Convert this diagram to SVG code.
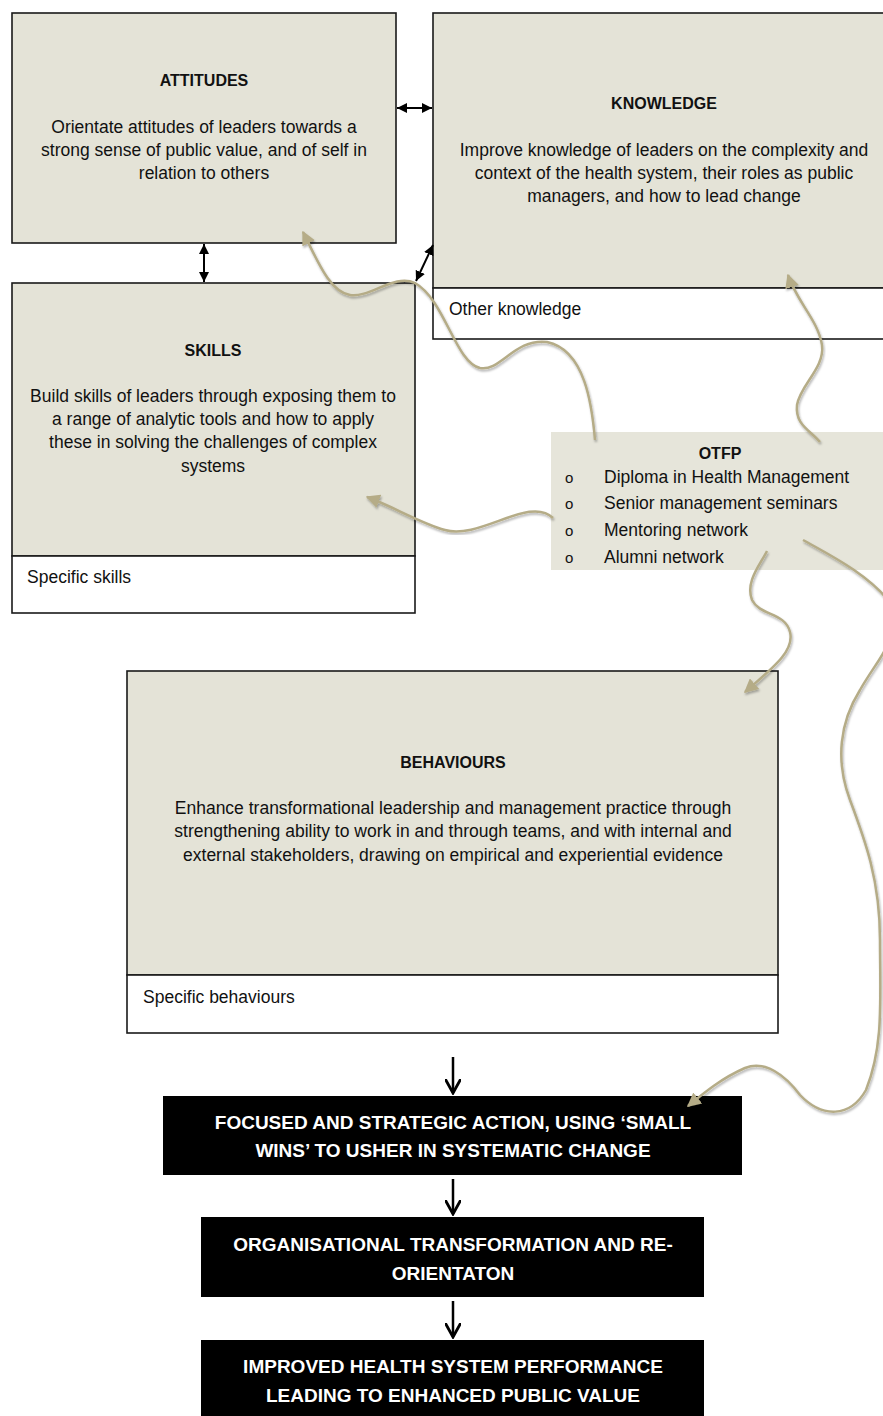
<svg xmlns="http://www.w3.org/2000/svg" width="883" height="1416" viewBox="0 0 883 1416">
<defs>
<style>
.box{fill:#e4e3d7;stroke:#1a1a1a;stroke-width:1.6}
.wbox{fill:#ffffff;stroke:#1a1a1a;stroke-width:1.6}
.otfp{fill:#e6e5da}
.blk{fill:#000000}
.t{font-family:"Liberation Sans",Arial,sans-serif;font-size:17.5px;fill:#111;text-anchor:middle}
.tl{font-family:"Liberation Sans",Arial,sans-serif;font-size:17.5px;fill:#111}
.h{font-family:"Liberation Sans",Arial,sans-serif;font-size:16px;font-weight:bold;fill:#111;text-anchor:middle}
.w{font-family:"Liberation Sans",Arial,sans-serif;font-size:19px;font-weight:bold;fill:#fff;text-anchor:middle}
.blt{font-family:"Liberation Sans",Arial,sans-serif;font-size:15px;fill:#111}
.dbl{stroke:#000;stroke-width:2;fill:none;marker-start:url(#bk);marker-end:url(#bk)}
.down{stroke:#000;stroke-width:2.5;fill:none;marker-end:url(#dn)}
.curve{stroke:#b5ac87;stroke-width:2.5;fill:none;marker-end:url(#kh);filter:url(#sh)}
</style>
<marker id="bk" viewBox="0 0 10 10" refX="10" refY="5" markerWidth="10" markerHeight="10" markerUnits="userSpaceOnUse" orient="auto-start-reverse">
<path d="M0,0 L10,5 L0,10 z" fill="#000"/>
</marker>
<marker id="dn" viewBox="0 0 10 10" refX="9" refY="5" markerWidth="16" markerHeight="16" markerUnits="userSpaceOnUse" orient="auto">
<path d="M0,0 L9,5 L0,10" fill="none" stroke="#000" stroke-width="1.8"/>
</marker>
<marker id="kh" viewBox="0 0 10 10" refX="9" refY="5" markerWidth="14" markerHeight="14" markerUnits="userSpaceOnUse" orient="auto">
<path d="M0,0 L10,5 L0,10 z" fill="#b5ac87"/>
</marker>
<filter id="sh" x="-10%" y="-10%" width="120%" height="120%">
<feDropShadow dx="1" dy="2" stdDeviation="1.2" flood-color="#000" flood-opacity="0.3"/>
</filter>
</defs>

<g id="attitudes">
<rect class="box" x="12" y="13" width="384" height="230"/>
<text class="h" x="204" y="86">ATTITUDES</text>
<text class="t" x="204" y="133">Orientate attitudes of leaders towards a</text>
<text class="t" x="204" y="156">strong sense of public value, and of self in</text>
<text class="t" x="204" y="179">relation to others</text>
</g>

<g id="knowledge">
<rect class="box" x="433" y="13" width="460" height="275"/>
<rect class="wbox" x="433" y="288" width="460" height="51"/>
<text class="h" x="664" y="109">KNOWLEDGE</text>
<text class="t" x="664" y="156">Improve knowledge of leaders on the complexity and</text>
<text class="t" x="664" y="179">context of the health system, their roles as public</text>
<text class="t" x="664" y="202">managers, and how to lead change</text>
<text class="tl" x="449" y="315">Other knowledge</text>
</g>

<g id="skills">
<rect class="box" x="12" y="283" width="403" height="273"/>
<rect class="wbox" x="12" y="556" width="403" height="57"/>
<text class="h" x="213" y="356">SKILLS</text>
<text class="t" x="213" y="402">Build skills of leaders through exposing them to</text>
<text class="t" x="213" y="425">a range of analytic tools and how to apply</text>
<text class="t" x="213" y="448">these in solving the challenges of complex</text>
<text class="t" x="213" y="472">systems</text>
<text class="tl" x="27" y="583">Specific skills</text>
</g>

<g id="otfp">
<rect class="otfp" x="551" y="432" width="340" height="138"/>
<text class="h" x="720" y="459">OTFP</text>
<text class="blt" x="565" y="483">o</text>
<text class="blt" x="565" y="509">o</text>
<text class="blt" x="565" y="536">o</text>
<text class="blt" x="565" y="563">o</text>
<text class="tl" x="604" y="483">Diploma in Health Management</text>
<text class="tl" x="604" y="509">Senior management seminars</text>
<text class="tl" x="604" y="536">Mentoring network</text>
<text class="tl" x="604" y="563">Alumni network</text>
</g>

<g id="behaviours">
<rect class="box" x="127" y="671" width="651" height="304"/>
<rect class="wbox" x="127" y="975" width="651" height="58"/>
<text class="h" x="453" y="768">BEHAVIOURS</text>
<text class="t" x="453" y="814">Enhance transformational leadership and management practice through</text>
<text class="t" x="453" y="837">strengthening ability to work in and through teams, and with internal and</text>
<text class="t" x="453" y="861">external stakeholders, drawing on empirical and experiential evidence</text>
<text class="tl" x="143" y="1003">Specific behaviours</text>
</g>

<g id="action">
<rect class="blk" x="163" y="1096" width="579" height="79"/>
<text class="w" x="453" y="1129">FOCUSED AND STRATEGIC ACTION, USING ‘SMALL</text>
<text class="w" x="453" y="1157">WINS’ TO USHER IN SYSTEMATIC CHANGE</text>
</g>

<g id="transformation">
<rect class="blk" x="201" y="1217" width="503" height="80"/>
<text class="w" x="453" y="1251">ORGANISATIONAL TRANSFORMATION AND RE-</text>
<text class="w" x="453" y="1280">ORIENTATON</text>
</g>

<g id="performance">
<rect class="blk" x="201" y="1340" width="503" height="80"/>
<text class="w" x="453" y="1373">IMPROVED HEALTH SYSTEM PERFORMANCE</text>
<text class="w" x="453" y="1402">LEADING TO ENHANCED PUBLIC VALUE</text>
</g>

<g id="connectors">
<line class="dbl" x1="397" y1="108" x2="432" y2="108"/>
<line class="dbl" x1="204" y1="244" x2="204" y2="282"/>
<line class="dbl" x1="416" y1="281" x2="433" y2="245"/>
<line class="down" x1="453" y1="1057" x2="453" y2="1093"/>
<line class="down" x1="453" y1="1179" x2="453" y2="1214"/>
<line class="down" x1="453" y1="1301" x2="453" y2="1337"/>
<path class="curve" d="M595,440 C592,405 585,350 547,342 C515,338 500,372 480,368 C455,362 445,300 415,283 C395,273 370,298 350,295 C330,292 318,262 303,232"/>
<path class="curve" d="M820,442 C810,430 795,425 797,405 C800,385 825,368 822,345 C818,320 797,302 788,275"/>
<path class="curve" d="M553,518 C530,495 480,540 445,530 C420,523 392,506 367,497"/>
<path class="curve" d="M767,551 C760,565 745,582 752,600 C760,616 785,612 790,632 C795,652 770,670 745,692"/>
<path class="curve" d="M803,540 C830,555 870,575 892,605 C900,640 880,655 860,690 C840,722 835,760 850,800 C865,840 880,880 880,940 C880,1000 884,1045 866,1090 C850,1118 822,1118 800,1095 C785,1075 765,1060 745,1068 C722,1078 705,1092 688,1106"/>
</g>
</svg>
